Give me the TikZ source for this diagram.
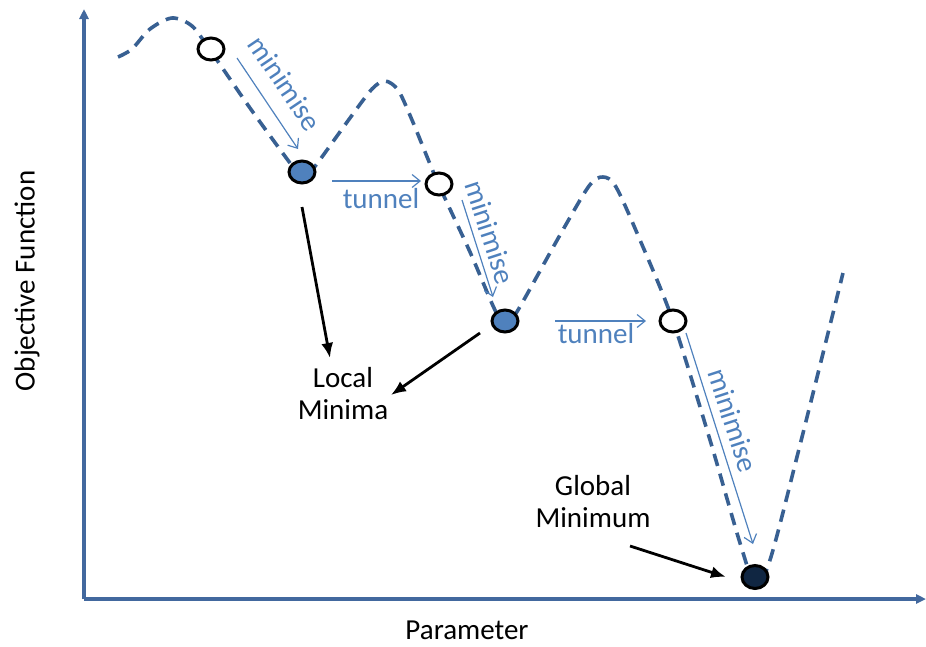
\documentclass[tikz,border=0pt]{standalone}
\usepackage{fontspec}
\setmainfont{Carlito}
\usetikzlibrary{arrows.meta,shapes.geometric}
\definecolor{axisblue}{RGB}{66,104,158}
\definecolor{curveblue}{RGB}{56,96,146}
\definecolor{lightblue}{RGB}{79,129,189}
\definecolor{darknavy}{RGB}{16,38,66}
\tikzset{
  axisline/.style={draw=axisblue, line width=3.3pt, -{Triangle[length=10pt,width=9pt]}},
  curveline/.style={draw=curveblue, line width=3.6pt, dash pattern=on 12.5pt off 8pt},
  openpt/.style={draw=black, line width=3pt, fill=white, shape=ellipse, minimum width=26pt, minimum height=22pt, inner sep=0pt},
  minpt/.style={draw=black, line width=3pt, fill=lightblue, shape=ellipse, minimum width=26pt, minimum height=22pt, inner sep=0pt},
  globpt/.style={draw=black, line width=3pt, fill=darknavy, shape=ellipse, minimum width=26pt, minimum height=23pt, inner sep=0pt},
  movearrow/.style={draw=lightblue, line width=1.2pt, -{Straight Barb[length=8pt,width=13pt]}},
  bluelabel/.style={text=lightblue, font=\fontsize{29}{32}\selectfont, inner sep=0pt},
  blacklabel/.style={text=black, font=\fontsize{29}{34}\selectfont, inner sep=0pt, align=center},
  axislabel/.style={text=black, font=\fontsize{29}{34}\selectfont, inner sep=0pt},
  pointer/.style={draw=black, line width=2.8pt, -{Latex[length=15pt,width=12pt]}},
}
\begin{document}
\begin{tikzpicture}[x=1pt,y=1pt]
\useasboundingbox (0,0) rectangle (926,-646);
% axes
\coordinate (origin) at (84,-599);
\coordinate (ytip) at (84,-9);
\coordinate (xtip) at (926,-599);
\draw[axisline] (origin) -- (ytip);
\draw[axisline] (origin) -- (xtip);
% objective curve
\draw[curveline] plot[smooth, tension=0.5] coordinates {
 (118,-57) (132,-49) (150,-29) (172,-18) (192,-26) (210,-50) (250,-108) (290,-163)
 (303,-179) (316,-165) (350,-118) (372,-89) (385,-81) (398,-90) (412,-120) (438,-183)
 (470,-252) (494,-308) (505,-326) (518,-310) (560,-235) (589,-186) (603,-177) (616,-187)
 (640,-240) (673,-321) (710,-440) (740,-543) (755,-583) (770,-560) (800,-445) (843,-273)};
% points
\node[openpt] (s1) at (211,-49) {};
\node[minpt] (m1) at (302,-172) {};
\node[openpt] (s2) at (439,-184) {};
\node[minpt] (m2) at (505,-321) {};
\node[openpt] (s3) at (673,-321) {};
\node[globpt] (g) at (755,-577) {};
% move arrows
\coordinate (a1s) at (237,-58);  \coordinate (a1e) at (298,-149);
\coordinate (t1s) at (332,-181); \coordinate (t1e) at (421,-181);
\coordinate (a2s) at (462,-200); \coordinate (a2e) at (493,-297);
\coordinate (t2s) at (555,-321); \coordinate (t2e) at (646,-321);
\coordinate (a3s) at (686,-333); \coordinate (a3e) at (753,-544);
\draw[movearrow] (a1s) -- (a1e);
\draw[movearrow] (t1s) -- (t1e);
\draw[movearrow] (a2s) -- (a2e);
\draw[movearrow] (t2s) -- (t2e);
\draw[movearrow] (a3s) -- (a3e);
\node[bluelabel, rotate=-56] (lm1) at (285,-83) {minimise};
\node[bluelabel] (lt1) at (381,-199) {tunnel};
\node[bluelabel, rotate=-72] (lm2) at (490,-232) {minimise};
\node[bluelabel] (lt2) at (596,-334) {tunnel};
\node[bluelabel, rotate=-72] (lm3) at (733,-420) {minimise};
% labels
\node[blacklabel] (local) at (343,-394) {Local\\[-2pt]Minima};
\node[blacklabel] (global) at (593,-502) {Global\\[-2pt]Minimum};
\node[axislabel, rotate=90] (ylab) at (27,-281) {Objective Function};
\node[axislabel] (xlab) at (467,-630) {Parameter};
% pointers
\coordinate (p1s) at (302,-207); \coordinate (p1e) at (330,-358);
\coordinate (p2s) at (480,-333); \coordinate (p2e) at (391,-395);
\coordinate (p3s) at (630,-546); \coordinate (p3e) at (726,-577);
\draw[pointer] (p1s) -- (p1e);
\draw[pointer] (p2s) -- (p2e);
\draw[pointer] (p3s) -- (p3e);
\end{tikzpicture}
\end{document}
